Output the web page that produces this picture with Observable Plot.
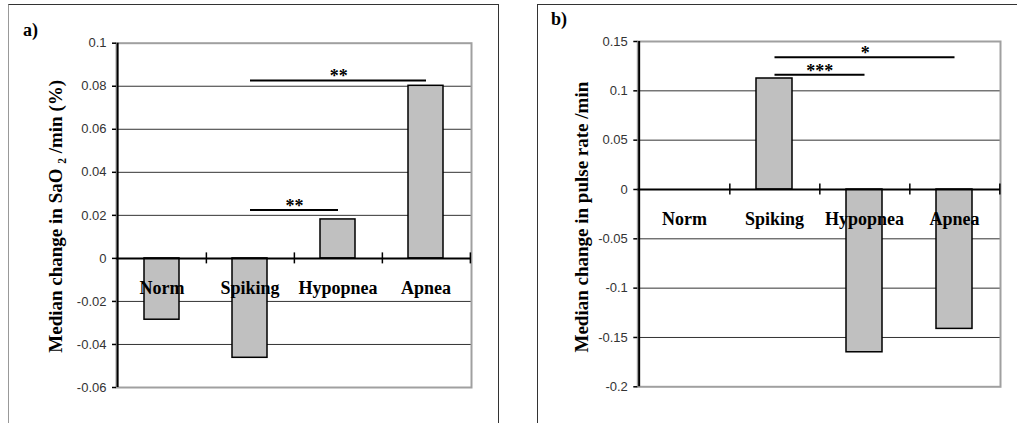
<!DOCTYPE html>
<html><head><meta charset="utf-8">
<script src="https://cdn.jsdelivr.net/npm/d3@7"></script>
<script src="https://cdn.jsdelivr.net/npm/@observablehq/plot@0.6"></script>
<style>
body{margin:0;background:#fff;}
#root{position:relative;width:1017px;height:423px;overflow:hidden;background:#fff;}
.frame{position:absolute;box-sizing:border-box;}
.panel{position:absolute;top:0;}
.tag{position:absolute;font:bold 18px/1 "Liberation Serif","Times New Roman",serif;color:#000;}
</style></head>
<body><div id="root">
<div class="frame" style="left:8px;top:4px;width:491px;height:440px;border-top:1px solid #333;border-right:1px solid #333;border-left:1px solid #999;"></div>
<div class="frame" style="left:537px;top:4px;width:500px;height:440px;border-top:1px solid #333;border-left:1px solid #333;"></div>
<div class="tag" style="left:23px;top:21px">a)</div>
<div class="tag" style="left:551px;top:10px">b)</div>
<div id="pa" class="panel" style="left:0px"></div>
<div id="pb" class="panel" style="left:520px"></div>
</div>
<script>
const categories = ["Norm", "Spiking", "Hypopnea", "Apnea"];
const sao2Values = [-0.0285, -0.0462, 0.0181, 0.0802];
const pulseValues = [0, 0.1125, -0.165, -0.1413];
const sao2Ticks = [-0.06, -0.04, -0.02, 0, 0.02, 0.04, 0.06, 0.08, 0.1];
const pulseTicks = [-0.2, -0.15, -0.1, -0.05, 0, 0.05, 0.1, 0.15];
const sao2Sig = [
  {from: "Spiking", to: "Hypopnea", y: 0.0225, stars: "**"},
  {from: "Spiking", to: "Apnea", y: 0.0827, stars: "**"}
];
const pulseSig = [
  {from: "Spiking", to: "Hypopnea", y: 0.1163, stars: "***"},
  {from: "Spiking", to: "Apnea", y: 0.134, stars: "*"}
];
const sao2Label = "Median change in SaO \u2082 /min (%)";
const pulseLabel = "Median change in pulse rate /min";

const SERIF = "Liberation Serif, Times New Roman, serif";
const SANS = "Liberation Sans, Arial, sans-serif";

function panel({values, ticks, sig, label, width, height, mL, mR, mT, mB, labelDx, labelDy}) {
  const domain = [ticks[0], ticks[ticks.length - 1]];
  const step = (width - mL - mR) / categories.length;
  const perPx = (domain[1] - domain[0]) / (height - mT - mB);
  const tickHalf = 5.5 * perPx;
  const data = categories.map((c, i) => ({cat: c, value: values[i]}));
  const grid = ticks.filter(t => t !== 0 && t !== domain[0] && t !== domain[1]);
  return Plot.plot({
    width, height,
    marginLeft: mL, marginRight: mR, marginTop: mT, marginBottom: mB,
    style: {background: "transparent", overflow: "visible"},
    x: {domain: categories, paddingInner: 0.6, paddingOuter: 0.3, axis: null},
    y: {domain, axis: null},
    marks: [
      Plot.ruleY(grid, {stroke: "#333", strokeWidth: 1}),
      Plot.frame({stroke: "#a0a0a0", strokeWidth: 2}),
      Plot.barY(data, {x: "cat", y: "value", fill: "#c0c0c0", stroke: "#000", strokeWidth: 1.5}),
      Plot.ruleY([0], {stroke: "#000", strokeWidth: 2}),
      Plot.ruleX(categories, {x: d => d, y1: -tickHalf, y2: tickHalf, dx: step / 2, stroke: "#000", strokeWidth: 1.5}),
      Plot.ruleX([categories[0]], {x: d => d, dx: -step / 2, stroke: "#000", strokeWidth: 2}),
      Plot.axisY({ticks, tickFormat: d => String(d), tickSize: 4, tickPadding: 6, fontSize: 13,
        fontFamily: SANS, fill: "#333", stroke: "#000", strokeWidth: 1.5, label: null}),
      Plot.text(categories, {x: d => d, y: () => 0, text: d => d, dy: 30, fontSize: 18,
        fontWeight: "bold", fontFamily: SERIF, fill: "#000"}),
      Plot.link(sig, {x1: "from", x2: "to", y1: "y", y2: "y", stroke: "#000", strokeWidth: 2}),
      ...sig.map(s => Plot.text([s], {x: "from", y: "y", text: "stars",
        dx: (categories.indexOf(s.to) - categories.indexOf(s.from)) * step / 2,
        dy: 2, lineAnchor: "bottom", fontSize: 18, fontWeight: "bold", fontFamily: SERIF, fill: "#000"})),
      Plot.text([label], {frameAnchor: "left", textAnchor: "middle", text: d => d, rotate: -90,
        dx: labelDx, dy: labelDy, fontSize: 19, fontWeight: "bold", fontFamily: SERIF, fill: "#000"})
    ]
  });
}

document.getElementById("pa").append(panel({
  values: sao2Values, ticks: sao2Ticks, sig: sao2Sig, label: sao2Label,
  width: 500, height: 423, mL: 116, mR: 29, mT: 42.7, mB: 36, labelDx: -61, labelDy: 1
}));
document.getElementById("pb").append(panel({
  values: pulseValues, ticks: pulseTicks, sig: pulseSig, label: pulseLabel,
  width: 497, height: 423, mL: 117.3, mR: 17, mT: 41, mB: 36.7, labelDx: -55.6, labelDy: 3
}));
</script>
</body></html>
